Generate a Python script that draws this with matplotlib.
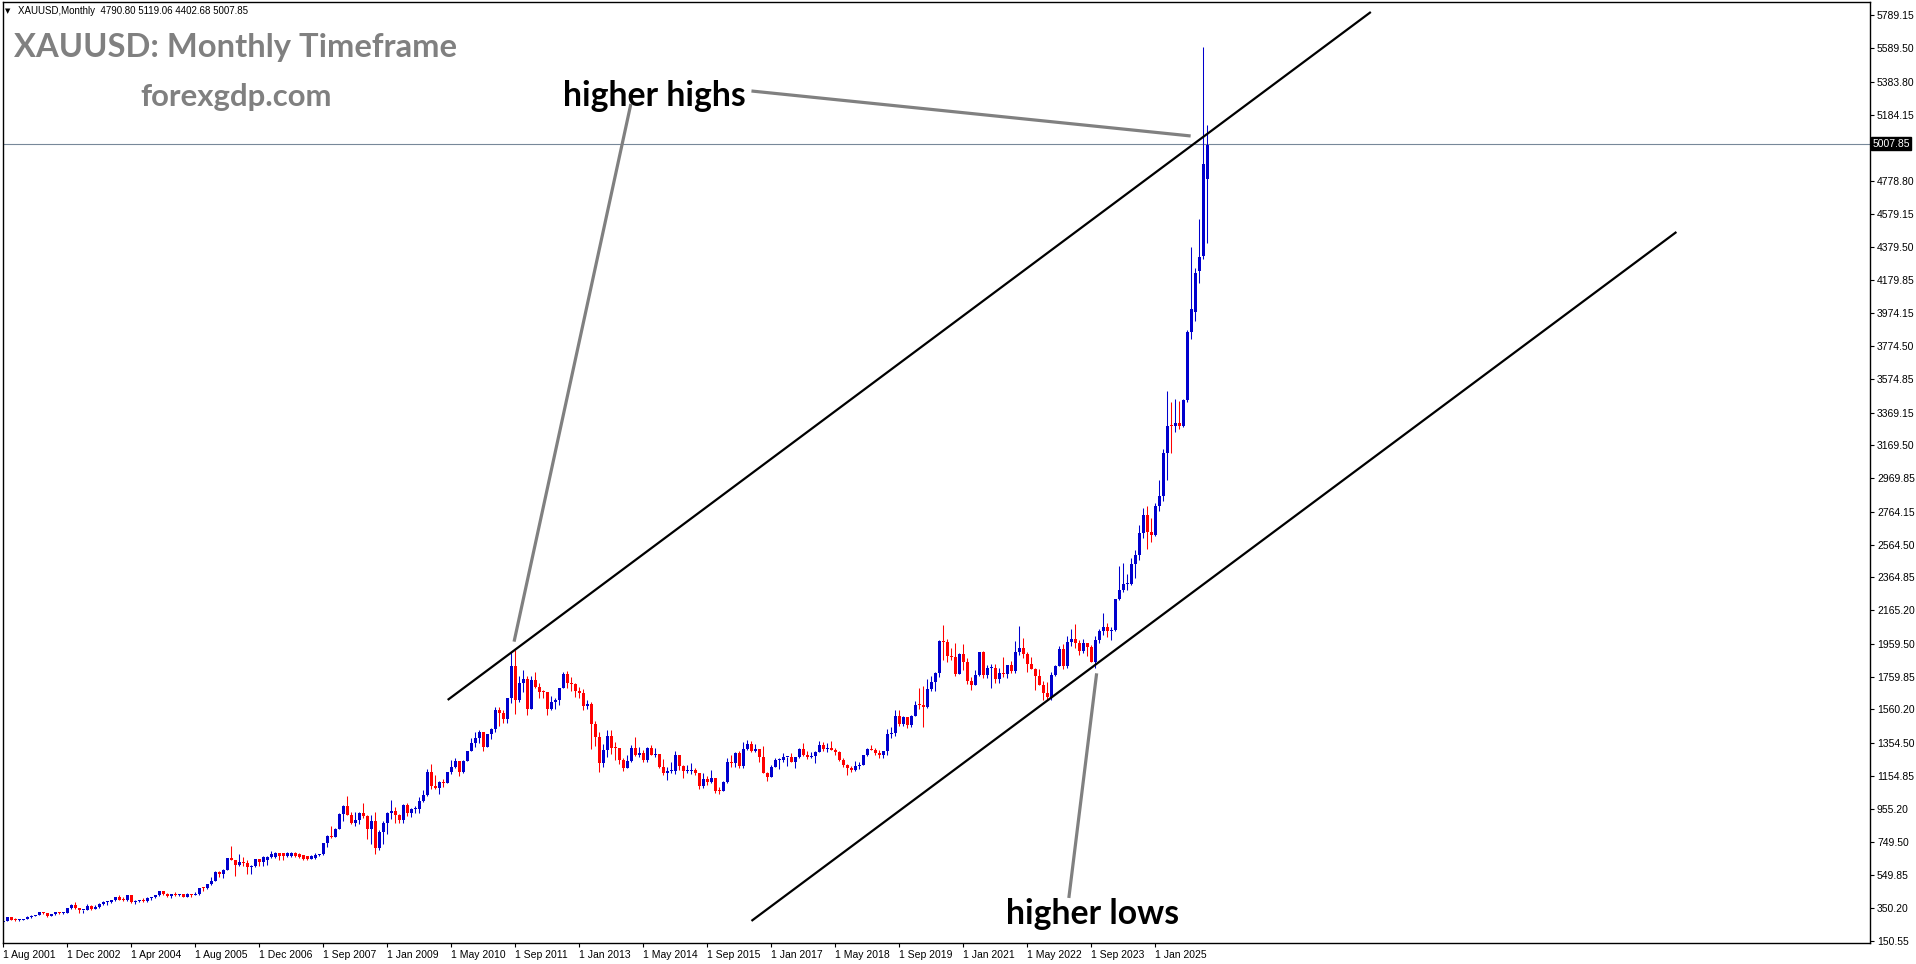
import matplotlib.pyplot as plt
import numpy as np

# XAUUSD monthly candles, one entry per bar (Aug 2001 .. Feb 2026)
opens = [
    266, 273, 293, 279, 275,
    279, 282, 297, 302, 308, 326, 318, 304, 313, 323, 317, 318,
    347, 368, 347, 336, 339, 364, 346, 354, 375, 385, 386, 398,
    416, 401, 396, 426, 388, 394, 394, 391, 408, 416, 429, 453,
    438, 423, 434, 428, 435, 415, 435, 429, 433, 473, 470, 495,
    517, 568, 556, 582, 654, 643, 613, 633, 624, 599, 604, 646,
    632, 645, 662, 660, 683, 682, 665, 667, 685, 680, 670, 665, 650, 655, 670,
    678, 743, 789, 783,
    834, 923, 972, 916, 865, 886, 929, 913, 834, 880, 718, 815,
    869, 927, 942, 916, 884, 979, 926, 955, 955, 1001, 1040, 1180,
    1096, 1081, 1118, 1113, 1179, 1212, 1244, 1181, 1248, 1307, 1357, 1386,
    1421, 1333, 1410, 1439, 1556, 1536, 1500, 1628, 1826, 1620, 1723, 1746,
    1565, 1738, 1697, 1669, 1664, 1562, 1604, 1615, 1692, 1773, 1719, 1712,
    1675, 1663, 1578, 1596, 1472, 1393, 1234, 1313, 1396, 1327, 1323, 1253,
    1202, 1244, 1326, 1284, 1296, 1250, 1327, 1282, 1287, 1211, 1171, 1182,
    1184, 1283, 1213, 1183, 1183, 1190, 1172, 1095, 1134, 1115, 1142, 1065,
    1061, 1118, 1238, 1233, 1293, 1215, 1321, 1351, 1309, 1316, 1273, 1173,
    1151, 1211, 1249, 1249, 1268, 1268, 1242, 1269, 1321, 1280, 1271, 1275,
    1303, 1345, 1318, 1325, 1315, 1298, 1253, 1224, 1201, 1192, 1215, 1222,
    1282, 1321, 1313, 1292, 1284, 1305, 1409, 1414, 1520, 1472, 1513, 1464,
    1517, 1589, 1585, 1577, 1687, 1730, 1781, 1975, 1968, 1886, 1879, 1776,
    1895, 1847, 1734, 1708, 1769, 1907, 1770, 1814, 1814, 1743, 1783, 1774,
    1829, 1797, 1909, 1937, 1897, 1837, 1807, 1766, 1711, 1661, 1633, 1768,
    1824, 1928, 1827, 1969, 1990, 1963, 1919, 1965, 1940, 1849, 1983, 2036,
    2063, 2039, 2044, 2230, 2286, 2327, 2327, 2447, 2503, 2635, 2744, 2643,
    2625, 2798, 2858, 3124, 3289, 3289, 3303, 3290, 3448, 3858, 3985, 4230,
    4324, 4790.80,
]
highs = [
    279, 294, 294, 288, 281,
    284, 304, 305, 310, 328, 328, 321, 316, 325, 326, 323, 349,
    372, 389, 352, 340, 372, 368, 369, 378, 392, 392, 400, 417,
    428, 418, 428, 429, 396, 401, 408, 417, 419, 431, 456, 456,
    443, 438, 446, 437, 437, 441, 436, 448, 474, 478, 497, 538,
    573, 576, 586, 654, 730, 643, 677, 663, 640, 610, 650, 649,
    666, 668, 700, 690, 685, 688, 690, 692, 692, 688, 675, 668, 675, 682, 680,
    745, 796, 848, 838,
    929, 976, 1033, 936, 935, 937, 988, 918, 914, 932, 823, 883,
    934, 1007, 964, 925, 983, 990, 961, 969, 1024, 1070, 1195, 1227,
    1162, 1124, 1138, 1180, 1249, 1265, 1245, 1251, 1307, 1388, 1424, 1432,
    1423, 1413, 1448, 1576, 1577, 1555, 1632, 1913, 1921, 1764, 1803, 1764,
    1764, 1791, 1719, 1677, 1665, 1641, 1630, 1692, 1790, 1796, 1755, 1723,
    1695, 1686, 1617, 1605, 1488, 1424, 1348, 1434, 1434, 1361, 1324, 1267,
    1280, 1345, 1392, 1331, 1315, 1330, 1345, 1322, 1287, 1255, 1208, 1238,
    1307, 1284, 1224, 1224, 1232, 1205, 1174, 1170, 1157, 1191, 1143, 1088,
    1122, 1263, 1283, 1303, 1304, 1362, 1375, 1367, 1352, 1318, 1337, 1180,
    1220, 1264, 1261, 1295, 1273, 1296, 1272, 1326, 1357, 1306, 1299, 1309,
    1366, 1361, 1356, 1366, 1326, 1309, 1265, 1226, 1214, 1243, 1237, 1284,
    1326, 1346, 1324, 1310, 1306, 1439, 1452, 1555, 1557, 1517, 1516, 1525,
    1611, 1689, 1704, 1748, 1765, 1789, 1981, 2075, 1992, 1933, 1966, 1906,
    1959, 1875, 1755, 1798, 1913, 1917, 1832, 1834, 1834, 1814, 1877, 1831,
    1853, 1974, 2070, 1998, 1910, 1880, 1814, 1808, 1735, 1730, 1786, 1833,
    1949, 1960, 2009, 2048, 2079, 1983, 1987, 1966, 1953, 2009, 2052, 2146,
    2088, 2065, 2236, 2432, 2450, 2388, 2484, 2531, 2686, 2790, 2801, 2726,
    2817, 2956, 3149, 3500, 3435, 3452, 3439, 3454, 3871, 4381, 4250, 4550,
    5599, 5119.06,
]
lows = [
    264, 271, 276, 272, 272,
    277, 281, 288, 299, 306, 315, 298, 300, 309, 312, 314, 317,
    343, 343, 319, 322, 335, 340, 342, 352, 369, 369, 379, 395,
    398, 390, 390, 382, 372, 386, 385, 387, 399, 411, 421, 430,
    418, 411, 423, 422, 414, 414, 418, 428, 432, 456, 466, 488,
    513, 538, 535, 580, 641, 543, 605, 605, 560, 560, 600, 607,
    606, 610, 655, 655, 640, 645, 660, 660, 660, 655, 640, 645, 648, 650, 665,
    670, 721, 775, 782,
    834, 881, 915, 861, 847, 859, 900, 772, 740, 681, 705, 742,
    802, 890, 866, 865, 868, 913, 905, 931, 930, 995, 1035, 1075,
    1075, 1045, 1087, 1110, 1165, 1200, 1157, 1175, 1245, 1306, 1330, 1358,
    1309, 1329, 1380, 1420, 1462, 1477, 1478, 1600, 1535, 1604, 1668, 1523,
    1562, 1688, 1627, 1628, 1527, 1556, 1565, 1589, 1689, 1693, 1672, 1635,
    1627, 1555, 1562, 1321, 1338, 1180, 1208, 1271, 1291, 1251, 1227, 1185,
    1200, 1240, 1277, 1268, 1240, 1240, 1281, 1273, 1205, 1160, 1131, 1170,
    1167, 1191, 1142, 1170, 1169, 1162, 1077, 1080, 1098, 1111, 1052, 1046,
    1060, 1111, 1208, 1208, 1200, 1200, 1310, 1301, 1302, 1241, 1171, 1123,
    1146, 1208, 1194, 1241, 1214, 1237, 1204, 1267, 1274, 1260, 1265, 1236,
    1302, 1307, 1303, 1311, 1282, 1246, 1211, 1160, 1180, 1182, 1196, 1221,
    1276, 1310, 1281, 1266, 1266, 1281, 1383, 1400, 1459, 1458, 1445, 1454,
    1517, 1563, 1451, 1567, 1670, 1671, 1757, 1863, 1849, 1860, 1765, 1776,
    1803, 1717, 1677, 1706, 1765, 1751, 1751, 1688, 1722, 1722, 1759, 1753,
    1780, 1780, 1890, 1872, 1787, 1805, 1681, 1709, 1615, 1617, 1616, 1765,
    1823, 1804, 1810, 1949, 1932, 1893, 1902, 1884, 1846, 1810, 1965, 2016,
    2001, 1984, 2039, 2228, 2277, 2286, 2319, 2364, 2472, 2603, 2537, 2583,
    2614, 2772, 2833, 2957, 3121, 3248, 3268, 3282, 3436, 3820, 3929, 4160,
    4307, 4402.68,
]
closes = [
    273, 293, 279, 275, 279,
    282, 297, 302, 308, 326, 318, 304, 313, 323, 317, 318, 347,
    368, 347, 336, 339, 364, 346, 354, 375, 385, 386, 398, 416,
    401, 396, 426, 388, 394, 394, 391, 408, 416, 429, 453, 438,
    423, 434, 428, 435, 415, 435, 429, 433, 473, 470, 495, 517,
    568, 556, 582, 654, 643, 613, 633, 624, 599, 604, 646, 632,
    660, 662, 680, 683, 668, 667, 685, 687, 666, 663, 650, 650, 667, 672, 678,
    743, 789, 783, 834,
    923, 972, 916, 865, 886, 929, 913, 834, 880, 718, 815, 869,
    927, 942, 916, 884, 979, 926, 955, 955, 1001, 1040, 1180, 1096,
    1081, 1118, 1113, 1179, 1212, 1244, 1181, 1248, 1307, 1357, 1386, 1421,
    1333, 1410, 1439, 1556, 1536, 1500, 1628, 1826, 1620, 1723, 1746, 1565,
    1738, 1697, 1669, 1664, 1562, 1604, 1615, 1692, 1773, 1719, 1712, 1675,
    1663, 1578, 1596, 1472, 1393, 1234, 1313, 1396, 1327, 1323, 1253, 1202,
    1244, 1326, 1284, 1296, 1250, 1327, 1282, 1287, 1211, 1171, 1182, 1184,
    1283, 1213, 1183, 1183, 1190, 1172, 1095, 1134, 1115, 1142, 1065, 1061,
    1118, 1238, 1233, 1293, 1215, 1321, 1351, 1309, 1316, 1273, 1173, 1151,
    1211, 1249, 1249, 1268, 1268, 1242, 1269, 1321, 1280, 1271, 1275, 1303,
    1345, 1318, 1325, 1315, 1298, 1253, 1224, 1201, 1192, 1215, 1222, 1282,
    1321, 1313, 1292, 1284, 1305, 1409, 1414, 1520, 1472, 1513, 1464, 1517,
    1589, 1585, 1577, 1687, 1730, 1781, 1975, 1968, 1886, 1879, 1776, 1895,
    1847, 1734, 1708, 1769, 1907, 1770, 1814, 1814, 1743, 1783, 1774, 1829,
    1797, 1909, 1937, 1897, 1837, 1807, 1766, 1711, 1661, 1633, 1768, 1824,
    1928, 1827, 1969, 1990, 1963, 1919, 1965, 1940, 1849, 1983, 2036, 2063,
    2039, 2044, 2230, 2286, 2327, 2327, 2447, 2503, 2635, 2744, 2643, 2625,
    2798, 2858, 3124, 3289, 3288, 3303, 3290, 3448, 3858, 4000, 4222, 4318,
    4884, 5007.85,
]

tick_labels = ["1 Aug 2001", "1 Dec 2002", "1 Apr 2004", "1 Aug 2005", "1 Dec 2006",
               "1 Sep 2007", "1 Jan 2009", "1 May 2010", "1 Sep 2011", "1 Jan 2013",
               "1 May 2014", "1 Sep 2015", "1 Jan 2017", "1 May 2018", "1 Sep 2019",
               "1 Jan 2021", "1 May 2022", "1 Sep 2023", "1 Jan 2025"]
price_ticks = [150.55, 350.20, 549.85, 749.50, 955.20, 1154.85, 1354.50, 1560.20,
               1759.85, 1959.50, 2165.20, 2364.85, 2564.50, 2764.15, 2969.85, 3169.50,
               3369.15, 3574.85, 3774.50, 3974.15, 4179.85, 4379.50, 4579.15, 4778.80,
               4984.50, 5184.15, 5383.80, 5589.50, 5789.15]
last_price = 5007.85

# trend lines (bar index, price)
upper_channel = ([111.1, 341.9], [1617.8, 5810.5])
lower_channel = ([187.05, 418.3], [271.0, 4469.8])
hh_pointer_1 = ([127.7, 156.9], [1973, 5250])
hh_pointer_2 = ([187.05, 296.85], [5329, 5055])
hl_pointer = ([266.4, 273.35], [411, 1780])

assert len(opens) == len(highs) == len(lows) == len(closes) == 302

plt.rcParams['font.family'] = ['Liberation Sans', 'DejaVu Sans']

W, H = 1916, 964
fig = plt.figure(figsize=(W / 100, H / 100), dpi=100)
ax = fig.add_axes([2.5 / W, 1 - 943 / H, (1870 - 2.5) / W, (943 - 2) / H])

o = np.array(opens, dtype=float)
h = np.array(highs, dtype=float)
l = np.array(lows, dtype=float)
c = np.array(closes, dtype=float)
x = np.arange(len(c))
cols = np.where(c >= o, '#0000CD', '#FF0000')

ax.vlines(x, l, h, colors=cols, linewidth=0.75)
ax.bar(x, np.maximum(np.abs(c - o), 6), bottom=np.minimum(o, c), width=0.75,
       color=cols, linewidth=0)

ax.axhline(last_price, color='#778899', lw=0.8, zorder=1)

for pts in (upper_channel, lower_channel):
    ax.plot(pts[0], pts[1], color='black', lw=1.6, solid_capstyle='butt')
for pts in (hh_pointer_1, hh_pointer_2, hl_pointer):
    ax.plot(pts[0], pts[1], color='#808080', lw=2.3, solid_capstyle='butt')

ax.text(162.9, 5298, 'higher highs', ha='center', va='center', fontsize=24.3,
        fontweight='bold', family=['Lato', 'DejaVu Sans'], color='black')
ax.text(272.4, 314, 'higher lows', ha='center', va='center', fontsize=24.3,
        fontweight='bold', family=['Lato', 'DejaVu Sans'], color='black')

ax.set_xlim(-0.2, 466.7)
ax.set_ylim(136.5, 5871.4)

ax.set_xticks(np.arange(0, 16 * len(tick_labels), 16))
ax.set_xticklabels(tick_labels, ha='left')
ax.yaxis.tick_right()
ax.set_yticks(price_ticks)
# the label under the last-price box is hidden by it
ax.set_yticklabels(["" if abs(v - last_price) < 40 else f"{v:.2f}" for v in price_ticks])
ax.tick_params(axis='x', length=3, width=0.8, pad=2, labelsize=7.5)
ax.tick_params(axis='y', length=3, width=0.8, pad=2, labelsize=7.5)
for s in ax.spines.values():
    s.set_linewidth(1)

ax.text(1.0012, last_price, f"{last_price:.2f}", transform=ax.get_yaxis_transform(),
        ha='left', va='center', fontsize=7.5, color='white', zorder=10, clip_on=False,
        bbox=dict(boxstyle='square,pad=0.15', fc='black', ec='black'))

fig.text(5 / W, 1 - 11 / H, '\u25bc', fontsize=5, va='center', family='DejaVu Sans')
fig.text(18 / W, 1 - 11 / H, 'XAUUSD,Monthly  4790.80 5119.06 4402.68 5007.85',
         fontsize=7, va='center')
fig.text(14 / W, 1 - 47 / H, 'XAUUSD: Monthly Timeframe', fontsize=23.6, fontweight='bold',
         color='#808080', va='center', family=['Lato', 'DejaVu Sans'])
fig.text(140 / W, 1 - 97 / H, 'forexgdp.com', fontsize=22.4, fontweight='bold',
         color='#808080', va='center', family=['Lato', 'DejaVu Sans'])

fig.savefig('out.png', dpi=100)
